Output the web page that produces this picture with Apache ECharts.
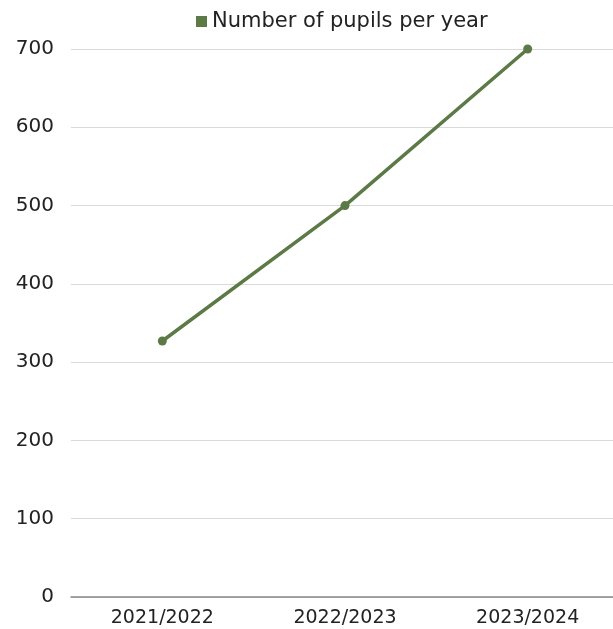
<!DOCTYPE html>
<html><head><meta charset="utf-8">
<script src="https://cdn.jsdelivr.net/npm/echarts@6/dist/echarts.min.js"></script>
<style>html,body{margin:0;padding:0;background:#fff;overflow:hidden}#c{width:619px;height:629px}</style>
</head><body><div id="c"></div>
<script>
const categories = ['2021/2022', '2022/2023', '2023/2024'];
const pupils = [327, 500, 700];
const seriesName = 'Number of pupils per year';

const chart = echarts.init(document.getElementById('c'), null, {renderer: 'canvas'});
const font = '"DejaVu Sans", sans-serif';
chart.setOption({
  animation: false,
  legend: {
    top: 6, left: 191,
    itemWidth: 11, itemHeight: 11, itemGap: 10,
    icon: 'rect',
    textStyle: {fontFamily: font, fontSize: 21, color: '#222'},
    data: [seriesName]
  },
  grid: {left: 71, top: 49, right: 0, bottom: 32, containLabel: false},
  xAxis: {
    type: 'category', data: categories, boundaryGap: true,
    axisLine: {lineStyle: {color: '#888', width: 1.5}},
    axisTick: {show: false},
    axisLabel: {fontFamily: font, fontSize: 19, color: '#222', margin: 12}
  },
  yAxis: {
    type: 'value', min: 0, max: 700, interval: 100,
    axisLine: {show: false}, axisTick: {show: false},
    splitLine: {lineStyle: {color: '#d9d9d9', width: 1}},
    axisLabel: {fontFamily: font, fontSize: 20, color: '#222', margin: 17}
  },
  series: [{
    name: seriesName, type: 'line', data: pupils,
    symbol: 'circle', symbolSize: 9,
    lineStyle: {color: '#5b7a46', width: 3.5},
    itemStyle: {color: '#5b7a46'}
  }]
});
</script></body></html>
